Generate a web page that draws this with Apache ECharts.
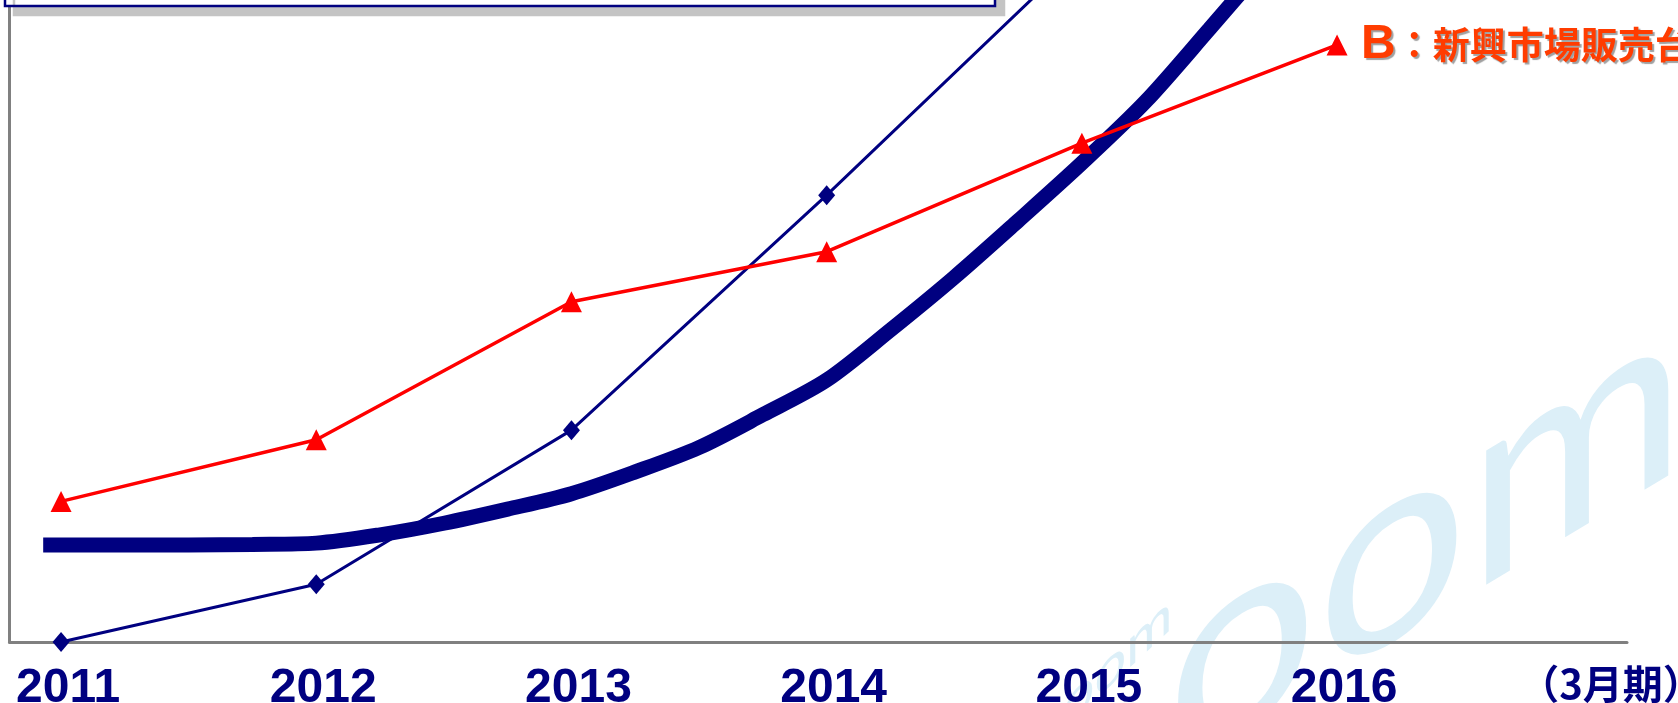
<!DOCTYPE html>
<html>
<head>
<meta charset="utf-8">
<script src="https://cdn.jsdelivr.net/npm/echarts@6/dist/echarts.min.js"></script>
<style>
html,body{margin:0;padding:0;background:#fff;}
#c{width:1678px;height:703px;}
</style>
</head>
<body>
<div id="c"></div>
<script>
// ---- data ----
var years = [2011, 2012, 2013, 2014, 2015, 2016];
var yearLabels = ['2011', '2012', '2013', '2014', '2015', '2016'];
var unitLabel = '（3月期）';
// thin navy series with diamond markers (continues off the top after 2014)
var seriesA = [0, 9.0, 33.0, 69.6, 107.6, null];
// red series with triangle markers
var seriesB = [21.9, 31.5, 53.0, 60.8, 77.7, 93.0];
var seriesBName = 'B：新興市場販売台数';
// thick navy trend curve, read at quarter-year steps
var trendX = [2010.93, 2011.25, 2011.5, 2011.75, 2012.0, 2012.25, 2012.5, 2012.75, 2013.0, 2013.25, 2013.5, 2013.75, 2014.0, 2014.25, 2014.5, 2014.75, 2015.0, 2015.25, 2015.5, 2015.75];
var trendY = [15.1, 15.1, 15.1, 15.2, 15.4, 16.7, 18.5, 20.7, 23.1, 26.5, 30.3, 35.4, 40.8, 48.6, 56.8, 65.6, 74.6, 84.2, 95.5, 107.0];

function pairs(xs, ys) { var r = []; for (var i = 0; i < xs.length; i++) r.push([xs[i], ys[i]]); return r; }

var chart = echarts.init(document.getElementById('c'), null, {renderer: 'canvas'});
var navy = '#000080';
var wm = '#dceff8';
var option = {
  animation: false,
  backgroundColor: '#ffffff',
  grid: {left: 9.5, right: 51, top: 0, bottom: 61, containLabel: false, outerBoundsMode: 'none'},
  xAxis: {
    type: 'value',
    min: 2010.798,
    max: 2017.136,
    splitLine: {show: false},
    axisTick: {show: false},
    axisLine: {show: true, onZero: false, lineStyle: {color: '#808080', width: 3}},
    axisLabel: {
      customValues: years,
      formatter: function (v) { var i = years.indexOf(v); return i >= 0 ? yearLabels[i] : ''; },
      color: navy, fontSize: 48, fontWeight: 'bold', fontFamily: 'Liberation Sans, Arial, sans-serif',
      margin: 23, padding: [0, 0, 0, 14]
    },
    name: unitLabel,
    nameLocation: 'end',
    nameGap: -16,
    nameTextStyle: {
      color: navy, fontSize: 40, fontWeight: 'bold', fontFamily: 'Noto Sans CJK JP, sans-serif',
      align: 'center', verticalAlign: 'top', padding: [22, 0, 0, 0]
    }
  },
  yAxis: {
    type: 'value', min: 0, max: 100,
    splitLine: {show: false}, axisTick: {show: false}, axisLabel: {show: false},
    axisLine: {show: true, onZero: false, lineStyle: {color: '#808080', width: 3}}
  },
  graphic: [
    // faint watermark
    {type: 'text', z: 0, silent: true, x: 1167, y: 823, skewY: 0.54,
      style: {text: 'oom', font: '400 265px Lato, sans-serif', fill: wm, align: 'left', verticalAlign: 'bottom'}},
    {type: 'text', z: 0, silent: true, x: 1038, y: 763, skewY: 0.75,
      style: {text: 'zoom', font: '400 56px Lato, sans-serif', fill: wm, align: 'left', verticalAlign: 'bottom'}},
    // top box (cut off legend frame)
    {type: 'rect', z: 100, silent: true,
      shape: {x: 5, y: -60, width: 990, height: 66},
      style: {fill: '#ffffff', stroke: navy, lineWidth: 2.5, shadowColor: '#c4c4c4', shadowOffsetX: 9, shadowOffsetY: 9, shadowBlur: 0}}
  ],
  series: [
    {
      name: 'トレンド', type: 'line', smooth: 0.3, symbol: 'none', z: 2,
      data: pairs(trendX, trendY),
      lineStyle: {color: navy, width: 15, cap: 'butt'}
    },
    {
      name: 'A', type: 'line', z: 3,
      data: pairs(years, seriesA),
      symbol: 'diamond', symbolSize: [17, 20],
      itemStyle: {color: navy},
      lineStyle: {color: navy, width: 3}
    },
    {
      name: seriesBName, type: 'line', z: 4,
      data: pairs(years, seriesB),
      symbol: 'triangle', symbolSize: 21,
      itemStyle: {color: '#ff0000'},
      lineStyle: {color: '#ff0000', width: 3.5},
      endLabel: {
        show: true, distance: 24,
        formatter: function () { return '{b|B}{c|' + seriesBName.slice(1) + '}'; },
        textShadowColor: '#a0a0a0', textShadowOffsetX: 2, textShadowOffsetY: 2, textShadowBlur: 1,
        rich: {
          b: {color: '#ff3c00', fontSize: 48, fontWeight: 'bold', fontFamily: 'Liberation Sans, Arial, sans-serif',
              textShadowColor: '#a0a0a0', textShadowOffsetX: 2, textShadowOffsetY: 2, textShadowBlur: 1},
          c: {color: '#ff3c00', fontSize: 37, fontWeight: 'bold', fontFamily: 'Noto Sans CJK JP, sans-serif',
              textShadowColor: '#a0a0a0', textShadowOffsetX: 2, textShadowOffsetY: 2, textShadowBlur: 1}
        }
      }
    }
  ]
};
chart.setOption(option);
</script>
</body>
</html>
